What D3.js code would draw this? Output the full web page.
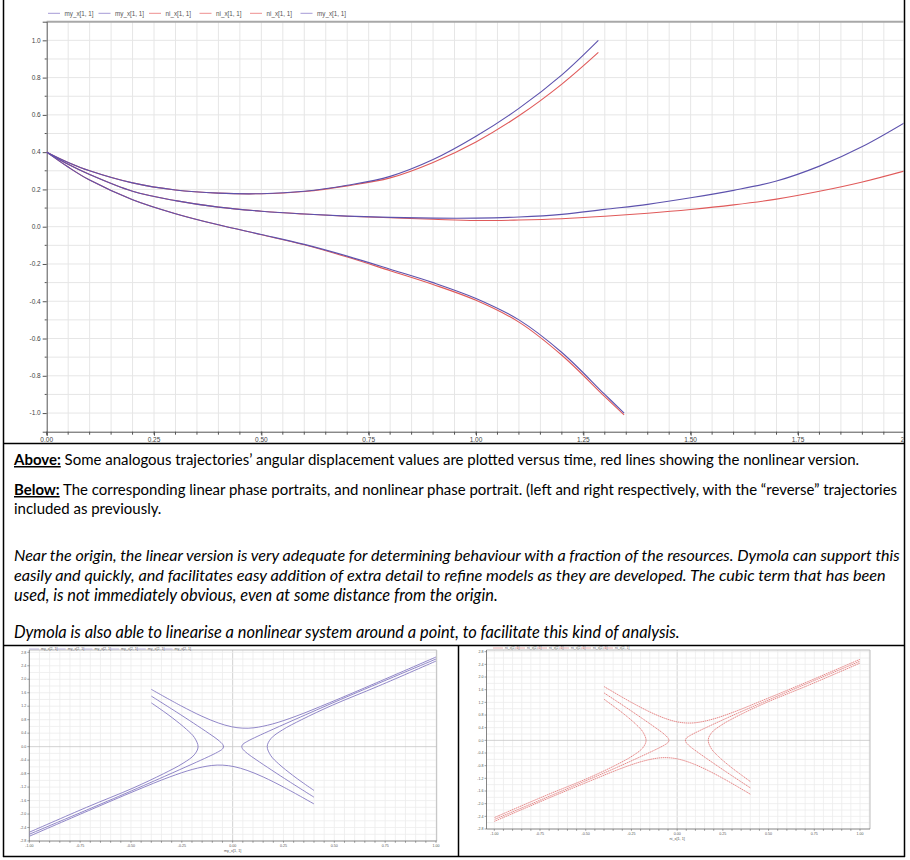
<!DOCTYPE html>
<html><head><meta charset="utf-8">
<script src="https://cdn.jsdelivr.net/npm/d3@7"></script>
<style>body{margin:0;background:#fff}svg{display:block}</style>
</head><body>
<svg id="c" width="910" height="860"></svg>
<script>
// ---------------- DATA ----------------
const legendMain = ["my_x[1, 1]","my_x[1, 1]","ni_x[1, 1]","ni_x[1, 1]","ni_x[1, 1]","my_x[1, 1]"];
const legendMainKind = ["my","my","ni","ni","ni","my"];
const timeTickLabels = ["0.00","0.25","0.50","0.75","1.00","1.25","1.50","1.75","2.0"];
const timeTicks = [0,0.25,0.5,0.75,1,1.25,1.5,1.75,2];
const dispTicks = [-1.0,-0.8,-0.6,-0.4,-0.2,0.0,0.2,0.4,0.6,0.8,1.0];
const dispTickLabels = ["-1.0","-0.8","-0.6","-0.4","-0.2","0.0","0.2","0.4","0.6","0.8","1.0"];

// time plot: [t, angle]
const myA = [[0,0.4],[0.05,0.345],[0.1,0.3],[0.2,0.235],[0.3,0.197],[0.4,0.18],[0.5,0.177],[0.6,0.19],[0.7,0.222],[0.8,0.27],[0.9,0.36],[1.0,0.485],[1.1,0.635],[1.2,0.815],[1.285,1.0]];
const niA = [[0,0.4],[0.05,0.345],[0.1,0.3],[0.2,0.235],[0.3,0.197],[0.4,0.18],[0.5,0.177],[0.6,0.189],[0.7,0.219],[0.8,0.262],[0.9,0.345],[1.0,0.455],[1.1,0.595],[1.2,0.765],[1.285,0.935]];
const myB = [[0,0.4],[0.05,0.335],[0.1,0.28],[0.2,0.19],[0.3,0.14],[0.4,0.105],[0.5,0.083],[0.6,0.068],[0.7,0.057],[0.8,0.05],[0.9,0.046],[1.0,0.046],[1.1,0.052],[1.2,0.066],[1.3,0.093],[1.4,0.12],[1.5,0.155],[1.6,0.195],[1.7,0.245],[1.8,0.325],[1.9,0.43],[2.0,0.56]];
const niB = [[0,0.4],[0.05,0.335],[0.1,0.28],[0.2,0.19],[0.3,0.14],[0.4,0.105],[0.5,0.083],[0.6,0.068],[0.7,0.056],[0.8,0.048],[0.9,0.04],[1.0,0.033],[1.1,0.036],[1.2,0.043],[1.3,0.056],[1.4,0.072],[1.5,0.092],[1.6,0.117],[1.7,0.148],[1.8,0.19],[1.9,0.24],[2.0,0.30]];
const myC = [[0,0.4],[0.05,0.32],[0.1,0.25],[0.2,0.145],[0.3,0.07],[0.4,0.01],[0.5,-0.042],[0.6,-0.095],[0.7,-0.158],[0.8,-0.228],[0.9,-0.3],[1.0,-0.385],[1.1,-0.5],[1.2,-0.675],[1.3,-0.9],[1.345,-1.0]];
const niC = [[0,0.4],[0.05,0.32],[0.1,0.25],[0.2,0.145],[0.3,0.07],[0.4,0.01],[0.5,-0.043],[0.6,-0.097],[0.7,-0.163],[0.8,-0.236],[0.9,-0.31],[1.0,-0.395],[1.1,-0.512],[1.2,-0.69],[1.3,-0.912],[1.345,-1.01]];

// phase portraits: [position, velocity]
const phaseTickX = [-1,-0.75,-0.5,-0.25,0,0.25,0.5,0.75,1];
const phaseTickXLabels = ["-1.00","-0.75","-0.50","-0.25","0.00","0.25","0.50","0.75","1.00"];
const phaseTickY = [-2.8,-2.4,-2.0,-1.6,-1.2,-0.8,-0.4,0.0,0.4,0.8,1.2,1.6,2.0,2.4,2.8];
const phaseTickYLabels = ["-2.8","-2.4","-2.0","-1.6","-1.2","-0.8","-0.4","0.0","0.4","0.8","1.2","1.6","2.0","2.4","2.8"];
const legendLin = ["my_x[2, 1]","my_x[2, 1]","my_x[2, 1]","my_x[2, 1]","my_x[2, 1]","my_x[2, 1]"];
const legendNl = ["ni_x[2, 1]","ni_x[2, 1]","ni_x[2, 1]","ni_x[2, 1]","ni_x[2, 1]","ni_x[2, 1]"];

const linA  = [[0.4,-1.3],[0.341,-1.052],[0.294,-0.844],[0.227,-0.514],[0.188,-0.27],[0.17,0.008],[0.189,0.244],[0.244,0.493],[0.34,0.803],[0.49,1.229],[0.718,1.80],[1.0,2.54]];
const linB  = [[0.4,-1.5],[0.277,-1.03],[0.193,-0.70],[0.115,-0.385],[0.072,-0.2],[0.048,-0.058],[0.045,0.012],[0.051,0.074],[0.075,0.166],[0.12,0.3],[0.2,0.52],[0.334,0.88],[0.562,1.48],[1.0,2.6]];
const linC  = [[0.4,-1.7],[0.256,-1.218],[0.151,-0.902],[0.071,-0.704],[0.007,-0.593],[-0.049,-0.549],[-0.105,-0.56],[-0.196,-0.673],[-0.312,-0.905],[-0.475,-1.3],[-0.709,-1.9],[-1.0,-2.66]];
const linAr = [[-0.4,1.3],[-0.341,1.052],[-0.294,0.844],[-0.227,0.514],[-0.188,0.27],[-0.17,-0.008],[-0.189,-0.244],[-0.244,-0.493],[-0.34,-0.803],[-0.49,-1.229],[-0.718,-1.80],[-1.0,-2.54]];
const linBr = [[-0.4,1.5],[-0.277,1.03],[-0.193,0.70],[-0.115,0.385],[-0.072,0.2],[-0.048,0.058],[-0.045,-0.012],[-0.051,-0.074],[-0.075,-0.166],[-0.12,-0.3],[-0.2,-0.52],[-0.334,-0.88],[-0.562,-1.48],[-1.0,-2.6]];
const linCr = [[-0.4,1.7],[-0.256,1.218],[-0.151,0.902],[-0.071,0.704],[-0.007,0.593],[0.049,0.549],[0.105,0.56],[0.196,0.673],[0.312,0.905],[0.475,1.3],[0.709,1.9],[1.0,2.66]];

const nlA  = [[0.4,-1.3],[0.341,-1.05],[0.294,-0.845],[0.227,-0.515],[0.188,-0.27],[0.17,0.008],[0.189,0.243],[0.244,0.49],[0.34,0.795],[0.49,1.2],[0.718,1.74],[1.0,2.44]];
const nlB  = [[0.4,-1.5],[0.277,-1.03],[0.193,-0.70],[0.115,-0.385],[0.072,-0.2],[0.048,-0.058],[0.045,0.012],[0.051,0.074],[0.075,0.166],[0.12,0.298],[0.2,0.515],[0.334,0.865],[0.562,1.43],[1.0,2.5]];
const nlC  = [[0.4,-1.7],[0.256,-1.218],[0.151,-0.902],[0.071,-0.704],[0.007,-0.593],[-0.049,-0.549],[-0.105,-0.56],[-0.196,-0.672],[-0.312,-0.9],[-0.475,-1.28],[-0.709,-1.84],[-1.0,-2.56]];
const nlAr = [[-0.4,1.3],[-0.341,1.05],[-0.294,0.845],[-0.227,0.515],[-0.188,0.27],[-0.17,-0.008],[-0.189,-0.243],[-0.244,-0.49],[-0.34,-0.795],[-0.49,-1.2],[-0.718,-1.74],[-1.0,-2.44]];
const nlBr = [[-0.4,1.5],[-0.277,1.03],[-0.193,0.70],[-0.115,0.385],[-0.072,0.2],[-0.048,0.058],[-0.045,-0.012],[-0.051,-0.074],[-0.075,-0.166],[-0.12,-0.298],[-0.2,-0.515],[-0.334,-0.865],[-0.562,-1.43],[-1.0,-2.5]];
const nlCr = [[-0.4,1.7],[-0.256,1.218],[-0.151,0.902],[-0.071,0.704],[-0.007,0.593],[0.049,0.549],[0.105,0.56],[0.196,0.672],[0.312,0.9],[0.475,1.28],[0.709,1.84],[1.0,2.56]];

// text lines: fit lines set the font size of their style; wrap lines are spaced out to their width
const textLines = [
  {y:465, parts:[{t:"Above:",b:1,u:1},{t:" Some analogous trajectories\u2019 angular displacement values are plotted versus time, red lines showing the nonlinear version."}], w:848, fit:1},
  {y:495, parts:[{t:"Below:",b:1,u:1},{t:" The corresponding linear phase portraits, and nonlinear phase portrait. (left and right respectively, with the \u201creverse\u201d trajectories"}], w:883, fit:1, wrap:1},
  {y:514, parts:[{t:"included as previously."}]},
  {y:561, it:1, parts:[{t:"Near the origin, the linear version is very adequate for determining behaviour with a fraction of the resources. Dymola can support this"}], w:886, fit:1, wrap:1},
  {y:581, it:1, parts:[{t:"easily and quickly, and facilitates easy addition of extra detail to refine models as they are developed. The cubic term that has been"}], w:872, fit:1, wrap:1},
  {y:601, it:1, parts:[{t:"used, is not immediately obvious, even at some distance from the origin."}]},
  {y:638, it:1, parts:[{t:"Dymola is also able to linearise a nonlinear system around a point, to facilitate this kind of analysis."}], w:683, fit:1}
];

// ---------------- DRAW ----------------
const BLUE = "#5d52ad", RED = "#e05a5a", BLUE_L="#a59ad6", RED_L="#ee8f8f";
const FONT_AX = "Liberation Sans, Arial, sans-serif";
const svg = d3.select("#c");
svg.append("rect").attr("width",910).attr("height",860).attr("fill","#fff");
const defs = svg.append("defs");
defs.append("clipPath").attr("id","cellTop").append("rect").attr("x",4).attr("y",0).attr("width",899.5).attr("height",443);

// ===== main chart =====
const x = d3.scaleLinear().domain([0,2]).range([46.7,905.3]);
const y = d3.scaleLinear().domain([-1.1,1.1]).range([431.7,21.7]);
const g = svg.append("g").attr("clip-path","url(#cellTop)");
const vgrid = d3.range(1,41).map(i=>i*0.05);
g.append("g").selectAll("line").data(vgrid).join("line")
  .attr("x1",d=>x(d)).attr("x2",d=>x(d)).attr("y1",y(1.1)).attr("y2",y(-1.1))
  .attr("stroke","#e6e6e6").attr("stroke-width",1);
const hgrid = d3.range(-10,11).map(i=>i/10);
g.append("g").selectAll("line").data(hgrid).join("line")
  .attr("x1",x(0)).attr("x2",x(2)).attr("y1",d=>y(d)).attr("y2",d=>y(d))
  .attr("stroke","#e6e6e6").attr("stroke-width",1);
g.append("line").attr("x1",x(0)).attr("x2",x(2)).attr("y1",y(1.1)).attr("y2",y(1.1))
  .attr("stroke","#a8a8a8").attr("stroke-width",2);

const yAxis = d3.axisLeft(y).tickValues(dispTicks).tickSize(4).tickFormat(()=> "");
const ya = g.append("g").attr("transform",`translate(${x(0)},0)`).call(yAxis);
ya.select(".domain").attr("stroke","#555");
ya.selectAll(".tick line").attr("stroke","#555");
g.append("g").selectAll("text").data(dispTicks).join("text")
  .attr("x",x(0)-6).attr("y",d=>y(d)+2.3).attr("text-anchor","end")
  .text((d,i)=>dispTickLabels[i]).attr("font-family",FONT_AX).attr("font-size",6.5).attr("fill","#444");
g.append("g").selectAll("line").data([-0.9,-0.7,-0.5,-0.3,-0.1,0.1,0.3,0.5,0.7,0.9])
  .join("line").attr("x1",x(0)-2).attr("x2",x(0)).attr("y1",d=>y(d)).attr("y2",d=>y(d)).attr("stroke","#555");
const xAxis = d3.axisBottom(x).tickValues(timeTicks).tickSize(4).tickFormat(()=>"");
const xa = g.append("g").attr("transform",`translate(0,${y(-1.1)})`).call(xAxis);
xa.select(".domain").attr("stroke","#555");
xa.selectAll(".tick line").attr("stroke","#555");
g.append("g").selectAll("line").data(d3.range(0,41).map(i=>i*0.05))
  .join("line").attr("x1",d=>x(d)).attr("x2",d=>x(d)).attr("y1",y(-1.1)).attr("y2",y(-1.1)+3).attr("stroke","#555");
g.append("g").selectAll("text").data(timeTicks).join("text")
  .attr("x",d=>x(d)).attr("y",y(-1.1)+10).attr("text-anchor","middle")
  .text((d,i)=>timeTickLabels[i]).attr("font-family",FONT_AX).attr("font-size",6.5).attr("fill","#444");

const line = d3.line().x(d=>x(d[0])).y(d=>y(d[1])).curve(d3.curveCatmullRom.alpha(0.5));
const series = [[niA,RED],[niB,RED],[niC,RED],[myA,BLUE],[myB,BLUE],[myC,BLUE]];
g.append("g").selectAll("path").data(series).join("path")
  .attr("d",d=>line(d[0])).attr("fill","none").attr("stroke",d=>d[1]).attr("stroke-width",1.1);

const lg = g.append("g");
legendMain.forEach((lab,i)=>{
  const x0 = 48 + i*50.5;
  lg.append("line").attr("x1",x0).attr("x2",x0+12).attr("y1",13.3).attr("y2",13.3)
    .attr("stroke",legendMainKind[i]==="my"?BLUE_L:RED_L).attr("stroke-width",1);
  lg.append("text").attr("x",x0+16.5).attr("y",15.5).text(lab)
    .attr("font-family",FONT_AX).attr("font-size",6.3).attr("fill","#555");
});

// ===== text =====
const tg = svg.append("g").attr("font-family","Lato, 'Open Sans', sans-serif").attr("fill","#000");
const fs = 15;
textLines.forEach(L=>{
  const t = tg.append("text").attr("x",14).attr("y",L.y).attr("font-size",fs);
  if(L.it) t.attr("font-style","italic");
  L.parts.forEach(p=>{
    const s = t.append("tspan").text(p.t);
    if(p.b) s.attr("font-weight","bold");
    if(p.u) s.attr("text-decoration","underline");
  });
  L.node = t;
});
const sizeOf = L => fs*L.w/L.node.node().getComputedTextLength();
const sizeN = d3.mean(textLines.filter(L=>L.fit && !L.it), sizeOf);
const sizeI = d3.mean(textLines.filter(L=>L.fit && L.it), sizeOf);
textLines.forEach(L=>{
  let s = L.it ? sizeI : sizeN;
  L.node.attr("font-size", s);
  if(L.w){
    const nw = L.node.node().getComputedTextLength();
    if(nw > L.w){ s = s*L.w/nw; L.node.attr("font-size", s); }
    else if(L.wrap){ L.node.attr("textLength", L.w).attr("lengthAdjust","spacing"); }
  }
});

// ===== phase portraits =====
function phase(cfg){
  const gp = svg.append("g");
  const xs = d3.scaleLinear().domain([-1,1]).range(cfg.xr);
  const ys = d3.scaleLinear().domain([-2.8,2.8]).range(cfg.yr);
  const L=cfg.frame[0], R=cfg.frame[1], T=cfg.frame[2], B=cfg.frame[3];
  const vg = d3.range(-25,26).map(i=>i*0.05).filter(v=>xs(v)>L+0.5 && xs(v)<R-0.5);
  gp.append("g").selectAll("line").data(vg).join("line")
    .attr("x1",d=>xs(d)).attr("x2",d=>xs(d)).attr("y1",T).attr("y2",B)
    .attr("stroke",d=>Math.abs(d)<1e-9?"#c8c8c8":"#ececec").attr("stroke-width",0.8);
  const hg = d3.range(-15,16).map(i=>i*0.2).filter(v=>ys(v)>T+0.5 && ys(v)<B-0.5);
  gp.append("g").selectAll("line").data(hg).join("line")
    .attr("x1",L).attr("x2",R).attr("y1",d=>ys(d)).attr("y2",d=>ys(d))
    .attr("stroke",d=>Math.abs(d)<1e-9?"#c8c8c8":"#ececec").attr("stroke-width",0.8);
  gp.append("line").attr("x1",L).attr("x2",R).attr("y1",T).attr("y2",T).attr("stroke","#bdbdbd").attr("stroke-width",1);
  gp.append("line").attr("x1",R).attr("x2",R).attr("y1",T).attr("y2",B).attr("stroke","#bdbdbd").attr("stroke-width",1);
  gp.append("line").attr("x1",L).attr("x2",L).attr("y1",T).attr("y2",B).attr("stroke","#666").attr("stroke-width",0.8);
  gp.append("line").attr("x1",L).attr("x2",R).attr("y1",B).attr("y2",B).attr("stroke","#666").attr("stroke-width",0.8);
  gp.append("g").selectAll("line").data(phaseTickY).join("line")
    .attr("x1",L-2).attr("x2",L).attr("y1",d=>ys(d)).attr("y2",d=>ys(d)).attr("stroke","#666").attr("stroke-width",0.6);
  gp.append("g").selectAll("text").data(phaseTickY).join("text")
    .attr("x",L-3).attr("y",d=>ys(d)+1.2).attr("text-anchor","end").text((d,i)=>phaseTickYLabels[i])
    .attr("font-family",FONT_AX).attr("font-size",3.6).attr("fill","#555");
  gp.append("g").selectAll("line").data(d3.range(-20,21).map(i=>i*0.05)).join("line")
    .attr("x1",d=>xs(d)).attr("x2",d=>xs(d)).attr("y1",B).attr("y2",B+1.8).attr("stroke","#666").attr("stroke-width",0.6);
  gp.append("g").selectAll("text").data(phaseTickX).join("text")
    .attr("x",d=>xs(d)).attr("y",B+5.5).attr("text-anchor","middle").text((d,i)=>phaseTickXLabels[i])
    .attr("font-family",FONT_AX).attr("font-size",3.6).attr("fill","#555");
  gp.append("text").attr("x",xs(0)).attr("y",B+10.5).attr("text-anchor","middle").text(cfg.xlabel)
    .attr("font-family",FONT_AX).attr("font-size",3.8).attr("fill","#555");
  cfg.legend.forEach((lab,i)=>{
    const x0 = cfg.legX + i*cfg.legStep;
    gp.append("line").attr("x1",x0).attr("x2",x0+10).attr("y1",cfg.legY).attr("y2",cfg.legY).attr("stroke",cfg.legColor).attr("stroke-width",0.8);
    gp.append("text").attr("x",x0+12).attr("y",cfg.legY+1.3).text(lab)
      .attr("font-family",FONT_AX).attr("font-size",3.6).attr("fill","#666");
  });
  const ln = d3.line().x(d=>xs(d[0])).y(d=>ys(d[1])).curve(d3.curveCatmullRom.alpha(0.5));
  gp.append("g").selectAll("path").data(cfg.curves).join("path")
    .attr("d",d=>ln(d)).attr("fill","none").attr("stroke",cfg.color).attr("stroke-width",cfg.sw)
    .attr("stroke-dasharray",cfg.dash||null);
}
phase({xr:[29.3,436],yr:[841,652.3],frame:[29.3,436.7,650,841],color:"#8479c2",sw:0.9,
  curves:[linA,linB,linC,linAr,linBr,linCr],legend:legendLin,legX:29,legY:649,legStep:26.7,legColor:"#b0a8d8",xlabel:"my_x[1, 1]"});
phase({xr:[494.3,860],yr:[829,651.7],frame:[486.5,870,650,829],color:"#e06a6a",sw:0.8,dash:"1.5,0.6",
  curves:[nlA,nlB,nlC,nlAr,nlBr,nlCr],legend:legendNl,legX:493,legY:648,legStep:22,legColor:"#e8a0a0",xlabel:"ni_x[1, 1]"});

// ===== table borders =====
const bd = svg.append("g").attr("stroke","#000").attr("stroke-width",1.5).attr("fill","none");
bd.append("line").attr("x1",3.5).attr("x2",3.5).attr("y1",0).attr("y2",857);
bd.append("line").attr("x1",904.5).attr("x2",904.5).attr("y1",0).attr("y2",857);
bd.append("line").attr("x1",3).attr("x2",905).attr("y1",443.5).attr("y2",443.5);
bd.append("line").attr("x1",3).attr("x2",905).attr("y1",645.5).attr("y2",645.5);
bd.append("line").attr("x1",3).attr("x2",905).attr("y1",856.5).attr("y2",856.5);
bd.append("line").attr("x1",458.5).attr("x2",458.5).attr("y1",645).attr("y2",857);
</script>
</body></html>
